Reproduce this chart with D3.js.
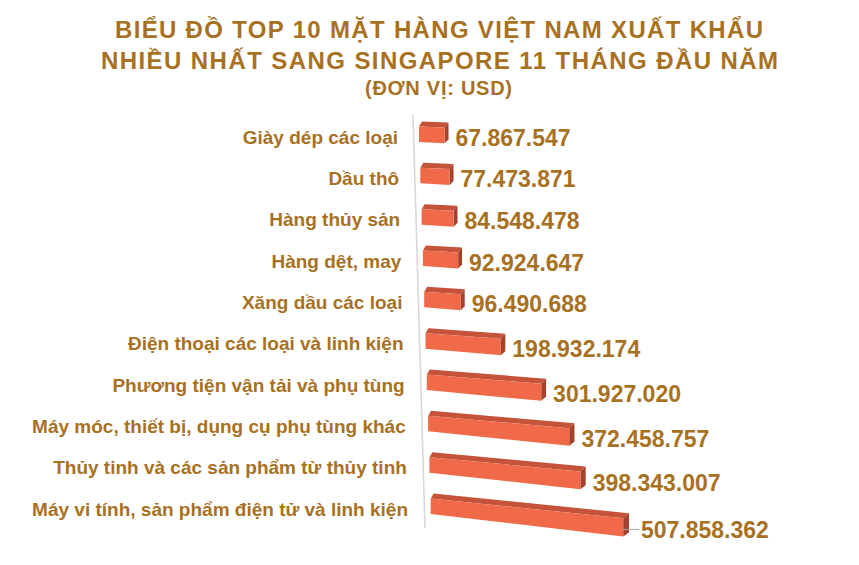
<!DOCTYPE html>
<html>
<head>
<meta charset="utf-8">
<script src="https://cdn.jsdelivr.net/npm/d3@7"></script>
<style>
  html, body { margin: 0; padding: 0; background: #ffffff; }
  svg { display: block; font-family: "Liberation Sans", Arial, sans-serif; font-weight: bold; }
</style>
</head>
<body>
<svg id="chart" width="859" height="565"></svg>
<script>
// ---- data ----
const titleLines = [
  "BIỂU ĐỒ TOP 10 MẶT HÀNG VIỆT NAM XUẤT KHẨU",
  "NHIỀU NHẤT SANG SINGAPORE 11 THÁNG ĐẦU NĂM",
  "(ĐƠN VỊ: USD)"
];
const categories = [
  "Giày dép các loại",
  "Dầu thô",
  "Hàng thủy sản",
  "Hàng dệt, may",
  "Xăng dầu các loại",
  "Điện thoại các loại và linh kiện",
  "Phương tiện vận tải và phụ tùng",
  "Máy móc, thiết bị, dụng cụ phụ tùng khác",
  "Thủy tinh và các sản phẩm từ thủy tinh",
  "Máy vi tính, sản phẩm điện tử và linh kiện"
];
const values = [67867547, 77473871, 84548478, 92924647, 96490688,
                198932174, 301927020, 372458757, 398343007, 507858362];

// ---- style ----
const textColor = "#A8711F";
const frontColor = "#F06A49";
const topColor = "#C4533A";
const endColor = "#A2432E";

const svg = d3.select("#chart");

const fmt = d3.formatLocale({decimal: ",", thousands: ".", grouping: [3], currency: ["", ""]}).format(",d");

// ---- scales ----
const rowY = d3.scalePoint().domain(categories).range([137, 509]);
const idx = d3.scaleLinear().domain([0, categories.length - 1]);
const leftX = idx.copy().range([419, 430.7]);        // perspective shift of bar base
const labelRight = idx.copy().range([398, 408]);     // category label right edge
const slope = idx.copy().range([0.035, 0.1025]);     // downward slope of bars
const len = d3.scaleLinear().domain([0, 600e6]).range([0, 227.4]);

// ---- title ----
const titleSpec = [
  {x0: 115, x1: 763, y: 38, size: 24},
  {x0: 101, x1: 778, y: 69, size: 24},
  {x0: 365, x1: 512, y: 94.5, size: 20}
];
svg.append("g").selectAll("text").data(titleLines).join("text")
  .attr("x", (d, i) => titleSpec[i].x0)
  .attr("y", (d, i) => titleSpec[i].y)
  .attr("font-size", (d, i) => titleSpec[i].size)
  .attr("textLength", (d, i) => titleSpec[i].x1 - titleSpec[i].x0)
  .attr("lengthAdjust", "spacing")
  .attr("fill", textColor)
  .text(d => d);

// ---- axis line ----
svg.append("line")
  .attr("x1", 413).attr("y1", 115)
  .attr("x2", 425).attr("y2", 528)
  .attr("stroke", "#d9d9d9").attr("stroke-width", 1.6);

// ---- bars ----
const depthY = -5, depthX0 = 3;
const bars = categories.map((c, i) => {
  const L = len(values[i]);
  const xl = leftX(i);
  const ytl = rowY(c) - 10.5;
  const xr = xl + L;
  const ytr = ytl + slope(i) * L;
  const hl = 15.5, hr = 15.5 + 0.015 * L;
  const ybl = ytl + hl, ybr = ytr + hr;
  const dxr = 3.5 + 0.012 * L;
  return {c, i, v: values[i], L, xl, ytl, xr, ytr, ybl, ybr, dxr};
});

const gBars = svg.append("g");
const line = d3.line();
bars.forEach(b => {
  const g = gBars.append("g");
  // top face
  g.append("path").attr("fill", topColor).attr("d", line([
    [b.xl, b.ytl], [b.xl + depthX0, b.ytl + depthY],
    [b.xr + b.dxr, b.ytr + depthY], [b.xr, b.ytr]
  ]) + "Z");
  // end face
  g.append("path").attr("fill", endColor).attr("d", line([
    [b.xr, b.ytr], [b.xr + b.dxr, b.ytr + depthY],
    [b.xr + b.dxr, b.ybr + depthY + 1], [b.xr, b.ybr]
  ]) + "Z");
  // front face
  g.append("path").attr("fill", frontColor).attr("d", line([
    [b.xl, b.ytl], [b.xr, b.ytr], [b.xr, b.ybr], [b.xl, b.ybl]
  ]) + "Z");
});

// ---- category labels ----
svg.append("g").selectAll("text").data(categories).join("text")
  .attr("x", (d, i) => labelRight(i))
  .attr("y", d => rowY(d) + 6.8)
  .attr("text-anchor", "end")
  .attr("font-size", 19)
  .attr("fill", textColor)
  .text(d => d);

// ---- value labels ----
const maxV = d3.max(values);
const gVal = svg.append("g");
bars.forEach(b => {
  const endC = (b.ytr + b.ybr) / 2 - 2;
  const isMax = b.v === maxV;
  const gap = isMax ? 12 : 7;
  const lx = b.xr + b.dxr + gap;
  const ly = endC + 4;
  if (isMax) {
    gVal.append("line")
      .attr("x1", b.xr).attr("y1", ly)
      .attr("x2", lx - 2).attr("y2", ly)
      .attr("stroke", "#a6a6a6").attr("stroke-width", 1);
  }
  gVal.append("text")
    .attr("x", lx)
    .attr("y", ly + 8.2)
    .attr("font-size", 23)
    .attr("fill", textColor)
    .text(fmt(b.v));
});
</script>
</body>
</html>
